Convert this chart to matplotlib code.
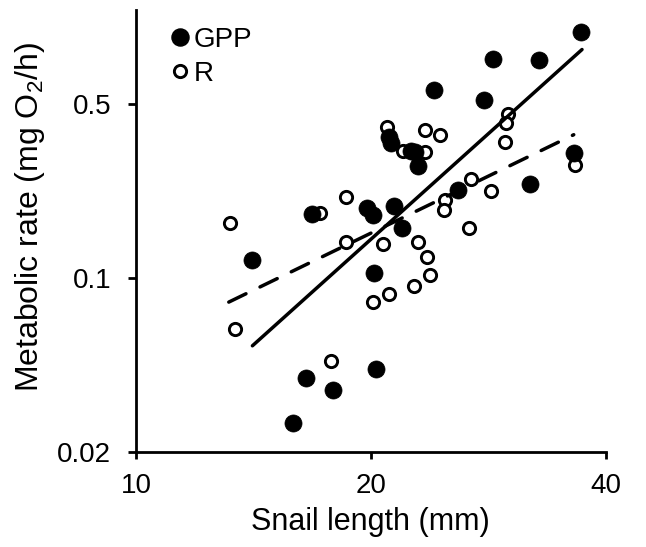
import matplotlib
matplotlib.use("Agg")
import matplotlib.pyplot as plt
from matplotlib.lines import Line2D

plt.rcParams['font.family'] = ['Liberation Sans', 'DejaVu Sans']
plt.rcParams['mathtext.fontset'] = 'custom'
plt.rcParams['mathtext.rm'] = 'Liberation Sans'
plt.rcParams['mathtext.it'] = 'Liberation Sans:italic'

# GPP (filled circles)
gpp_length = [37.2, 28.7, 32.9, 24.1, 27.9, 21.1, 21.2, 22.5, 22.8, 23.0, 36.4, 32.0,
              25.9, 21.4, 19.8, 20.1, 16.8, 21.9, 14.1, 20.2, 20.3, 16.5, 17.9, 15.9]
gpp_rate = [0.970, 0.759, 0.748, 0.567, 0.520, 0.369, 0.349, 0.324, 0.321, 0.281, 0.318, 0.238,
            0.226, 0.194, 0.191, 0.179, 0.181, 0.159, 0.118, 0.105, 0.0431, 0.0399, 0.0354, 0.0263]

# R (open circles)
r_length = [30.0, 29.8, 21.0, 23.5, 24.5, 29.7, 22.0, 23.5, 36.5, 26.9, 28.5, 24.9, 24.8, 18.6,
            17.2, 13.2, 26.7, 18.6, 20.7, 23.0, 23.6, 23.8, 22.7, 21.1, 20.1, 13.4, 17.8]
r_rate = [0.456, 0.419, 0.404, 0.394, 0.376, 0.350, 0.322, 0.321, 0.283, 0.250, 0.223, 0.206, 0.188, 0.211,
          0.182, 0.167, 0.159, 0.139, 0.137, 0.139, 0.122, 0.103, 0.0933, 0.0862, 0.0805, 0.0624, 0.0465]

# fitted lines (end points)
gpp_fit_x = [14.1, 37.3]
gpp_fit_y = [0.0535, 0.826]
r_fit_x = [13.15, 36.4]
r_fit_y = [0.0801, 0.376]

x_ticks = [10, 20, 40]
x_ticklabels = ['10', '20', '40']
y_ticks = [0.02, 0.1, 0.5]
y_ticklabels = ['0.02', '0.1', '0.5']

fig = plt.figure(figsize=(6.46, 5.47), dpi=100)
ax = fig.add_axes([136/646, 1-452.3/547, (605.7-136)/646, (452.3-10)/547])

ax.plot(r_length, r_rate, 'o', ms=8.8, mfc='white', mec='black', mew=2.1, ls='none', zorder=2)
ax.plot(gpp_length, gpp_rate, 'o', ms=12.3, mfc='black', mec='black', mew=0.5, ls='none', zorder=3)
ax.plot(gpp_fit_x, gpp_fit_y, '-', color='black', lw=2.5, solid_capstyle='round', zorder=4)
ax.plot(r_fit_x, r_fit_y, color='black', lw=2.5, dashes=(5.5, 4.5), dash_capstyle='round', zorder=4)

ax.set_xscale('log')
ax.set_yscale('log')
ax.set_xlim(10, 40)
ax.set_ylim(0.02, 1.19)
ax.minorticks_off()
ax.set_xticks(x_ticks)
ax.set_xticklabels(x_ticklabels)
ax.set_yticks(y_ticks)
ax.set_yticklabels(y_ticklabels)

for s in ['top', 'right']:
    ax.spines[s].set_visible(False)
for s in ['left', 'bottom']:
    ax.spines[s].set_linewidth(2.0)
ax.tick_params(axis='both', which='major', direction='out', width=2.0, labelsize=20)
ax.tick_params(axis='x', length=5, pad=10)
ax.tick_params(axis='y', length=6, pad=12)

ax.set_xlabel('Snail length (mm)', fontsize=22, labelpad=6)
ax.set_ylabel(r'Metabolic rate (mg O$_\mathregular{2}$/h)', fontsize=23)
ax.yaxis.set_label_coords(-0.19, 0.532)

handles = [Line2D([], [], marker='o', ls='none', ms=12.3, mfc='black', mec='black'),
           Line2D([], [], marker='o', ls='none', ms=8.8, mfc='white', mec='black', mew=2.1)]
ax.legend(handles, ['GPP', 'R'], loc='upper left', bbox_to_anchor=(0.04, 1.0), frameon=False,
          fontsize=20, handlelength=0.6, handletextpad=0.2, labelspacing=0.3, borderaxespad=0.2)

fig.savefig('out.png', dpi=100)
